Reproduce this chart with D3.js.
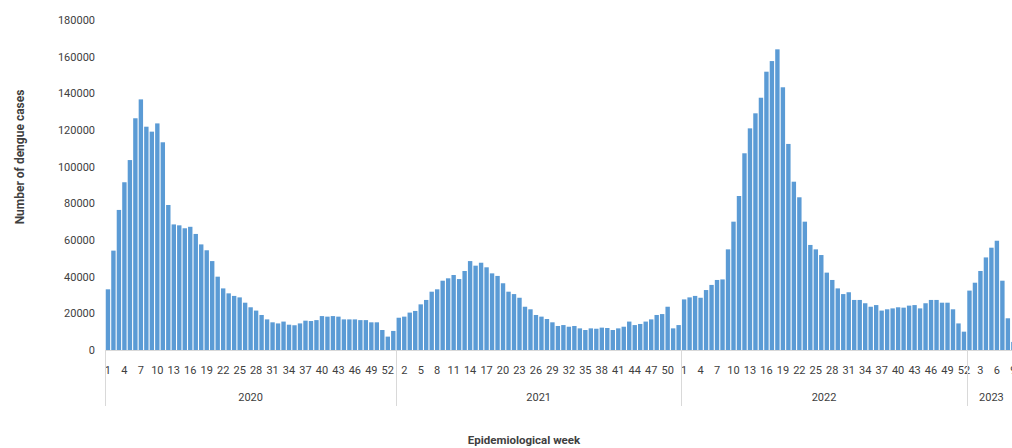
<!DOCTYPE html>
<html>
<head>
<meta charset="utf-8">
<script src="https://cdn.jsdelivr.net/npm/d3@7"></script>
<style>
  body { margin: 0; background: #fff; }
  text { font-family: Roboto, "Liberation Sans", sans-serif; fill: #404040; }
</style>
</head>
<body>
<div class="chart"></div>
<script>
// weekly dengue cases
var years = ["2020", "2021", "2022", "2023"];

var cases2020 = [33100, 54200, 76400, 91500, 103600, 126400, 136700, 121800, 119100, 123600,
  113300, 79100, 68500, 68000, 66400, 67200, 63300, 57600, 54400, 48500,
  40000, 33600, 30900, 29500, 28700, 25800, 23300, 21500, 19100, 16700,
  15100, 14500, 15500, 13800, 13500, 14500, 16000, 15800, 16300, 18500,
  18200, 18500, 18200, 16700, 16700, 16700, 16300, 16300, 15100, 15100,
  10900, 7300, 10400];

var cases2021 = [17600, 18200, 20400, 21300, 24900, 27300, 31800, 33100, 37800, 39100,
  40900, 38700, 43100, 48500, 46000, 47600, 45100, 41800, 40400, 36400,
  31800, 30500, 28500, 23600, 22200, 19100, 18200, 16900, 15100, 13100,
  13600, 12700, 13100, 11800, 10900, 11800, 11600, 12200, 12000, 10900,
  11800, 12700, 15500, 13600, 14200, 15500, 16700, 19100, 19600, 23600,
  11800, 13600];

var cases2022 = [27600, 28700, 29500, 28500, 32700, 35500, 38200, 38500, 54900, 70000,
  84000, 107300, 120900, 129100, 137600, 151800, 157600, 164000, 143300, 112400,
  91800, 83300, 70000, 57300, 54900, 51800, 42200, 38200, 33600, 30500,
  31500, 27300, 27300, 25500, 23600, 24500, 21500, 22200, 22700, 23300,
  23100, 24200, 24500, 22700, 25500, 27300, 27300, 25800, 25800, 22200,
  14500, 10000];

var cases2023 = [32400, 36700, 43100, 50500, 55800, 59600, 37800, 17300, 4400];

var yTicks = [0, 20000, 40000, 60000, 80000, 100000, 120000, 140000, 160000, 180000];

var W = 1012, H = 448;
var left = 105.2, right = 1016.1, baseY = 350, topY = 20;

var series = [cases2020, cases2021, cases2022, cases2023];
var ds = [];
series.forEach(function(vals, k) {
  vals.forEach(function(v, i) {
    ds.push({ id: years[k] + "-" + (i + 1), year: years[k], week: i + 1, value: v });
  });
});

var xScale = d3.scaleBand()
               .domain(ds.map(function(d) { return d.id; }))
               .range([left, right])
               .paddingInner(0.2)
               .paddingOuter(0.1);

var yScale = d3.scaleLinear()
               .domain([0, 180000])
               .range([baseY, topY]);

var svg = d3.select(".chart")
            .append("svg")
            .attr("width", W)
            .attr("height", H);

// bars
svg.append("g")
   .selectAll("rect")
   .data(ds)
   .enter()
   .append("rect")
   .attr("x", function(d) { return xScale(d.id); })
   .attr("y", function(d) { return yScale(d.value); })
   .attr("width", xScale.bandwidth())
   .attr("height", function(d) { return baseY - yScale(d.value); })
   .attr("fill", "#5b9bd5");

// y axis (labels only)
var yAxis = d3.axisLeft(yScale)
              .tickValues(yTicks)
              .tickSize(0)
              .tickPadding(0)
              .tickFormat(d3.format("d"));

var gy = svg.append("g")
            .attr("transform", "translate(95,0)")
            .call(yAxis);
gy.select(".domain").remove();
gy.selectAll("text").attr("font-size", 11).attr("font-family", null).attr("fill", "#404040");

// x axis: every third week
var xAxis = d3.axisBottom(xScale)
              .tickValues(ds.filter(function(d, i) { return i % 3 === 0; }).map(function(d) { return d.id; }))
              .tickSize(0)
              .tickPadding(0)
              .tickFormat(function(id) { return id.split("-")[1]; });

var gx = svg.append("g")
            .attr("transform", "translate(0," + baseY + ")")
            .call(xAxis);
gx.select(".domain").remove();
gx.selectAll("text")
  .attr("font-size", 11)
  .attr("font-family", null)
  .attr("fill", "#404040")
  .attr("dy", null)
  .attr("y", 24);

svg.append("line")
   .attr("x1", left).attr("x2", W)
   .attr("y1", baseY + 0.5).attr("y2", baseY + 0.5)
   .attr("stroke", "#d9d9d9");

// year groups
var gap = xScale.step() * xScale.paddingInner() / 2;
var yearInfo = years.map(function(y, k) {
  var first = y + "-1";
  var last = y + "-" + series[k].length;
  return { year: y, x0: xScale(first) - gap, x1: xScale(last) + xScale.bandwidth() + gap };
});

svg.append("g")
   .selectAll("line")
   .data(yearInfo)
   .enter()
   .append("line")
   .attr("x1", function(d) { return Math.round(d.x0) + 0.5; })
   .attr("x2", function(d) { return Math.round(d.x0) + 0.5; })
   .attr("y1", baseY)
   .attr("y2", 406)
   .attr("stroke", "#d9d9d9");

svg.append("g")
   .selectAll("text")
   .data(yearInfo)
   .enter()
   .append("text")
   .attr("x", function(d) { return (d.x0 + Math.min(d.x1, W + 8)) / 2; })
   .attr("y", 401)
   .attr("text-anchor", "middle")
   .attr("font-size", 11)
   .text(function(d) { return d.year; });

// axis titles
svg.append("text")
   .attr("x", 524)
   .attr("y", 444)
   .attr("text-anchor", "middle")
   .attr("font-size", 11.5)
   .attr("font-weight", "bold")
   .text("Epidemiological week");

svg.append("text")
   .attr("transform", "translate(24,157) rotate(-90)")
   .attr("text-anchor", "middle")
   .attr("font-size", 12)
   .attr("font-weight", "bold")
   .text("Number of dengue cases");
</script>
</body>
</html>
